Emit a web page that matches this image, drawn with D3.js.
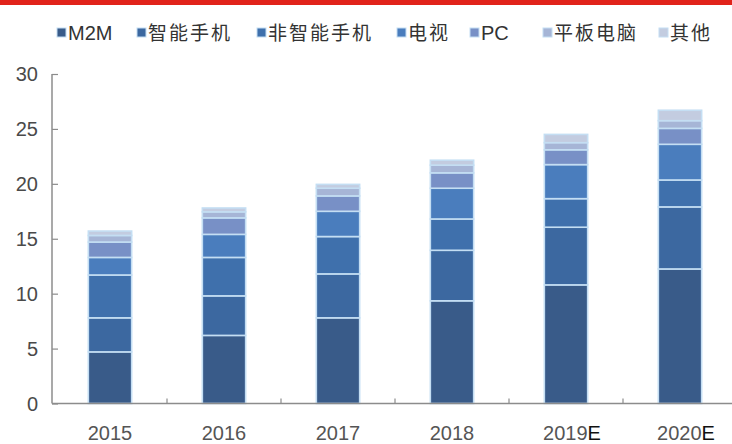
<!DOCTYPE html>
<html>
<head>
<meta charset="utf-8">
<script src="https://cdn.jsdelivr.net/npm/d3@7"></script>
<style>
  html, body { margin: 0; padding: 0; background: #fff; }
  svg { display: block; }
</style>
</head>
<body>
<svg id="chart" width="732" height="444"></svg>
<script>
// Categories (years) and stacked series, bottom to top
const years = ["2015", "2016", "2017", "2018", "2019E", "2020E"];
const seriesNames = ["M2M", "智能手机", "非智能手机", "电视", "PC", "平板电脑", "其他"];

const m2m        = [4.7, 6.2, 7.8, 9.35, 10.8, 12.25];
const smartphone = [3.1, 3.6, 4.0, 4.6, 5.25, 5.65];
const featurePh  = [3.9, 3.5, 3.4, 2.85, 2.6, 2.45];
const tv         = [1.6, 2.1, 2.3, 2.8, 3.1, 3.25];
const pc         = [1.4, 1.5, 1.4, 1.4, 1.35, 1.45];
const tablet     = [0.6, 0.55, 0.7, 0.7, 0.65, 0.7];
const others     = [0.4, 0.35, 0.35, 0.45, 0.75, 0.95];

const yTicks = [0, 5, 10, 15, 20, 25, 30];

const colors = ["#395b89", "#3c68a0", "#3f70ac", "#4a7dbd", "#7890c6", "#a6b5d6", "#c3cce0"];

// Assemble rows for d3.stack
const valueArrays = [m2m, smartphone, featurePh, tv, pc, tablet, others];
const rows = years.map((y, i) => {
  const r = { year: y };
  seriesNames.forEach((s, k) => { r[s] = valueArrays[k][i]; });
  return r;
});

const svg = d3.select("#chart");

// red rule across the top
svg.append("rect").attr("x", 0).attr("y", 0).attr("width", 732).attr("height", 5).attr("fill", "#e1231b");

const x = d3.scaleBand().domain(years).range([53, 737]).paddingInner(0.62).paddingOuter(0.31);
const y = d3.scaleLinear().domain([0, 30]).range([403.5, 74]);

const stack = d3.stack().keys(seriesNames);
const layers = stack(rows);

// stacked bars
const g = svg.append("g");
layers.forEach((layer, k) => {
  g.selectAll(null)
    .data(layer)
    .enter()
    .append("rect")
    .attr("x", d => x(d.data.year))
    .attr("y", d => y(d[1]))
    .attr("width", x.bandwidth())
    .attr("height", d => y(d[0]) - y(d[1]))
    .attr("fill", colors[k])
    .attr("stroke", "#c4def3")
    .attr("stroke-width", 1.6);
});

// axes
const axisColor = "#8c8c8c";
const yAxis = svg.append("g").attr("transform", "translate(52,0)")
  .call(d3.axisRight(y).tickValues(yTicks).tickSize(6).tickFormat(""));
yAxis.select(".domain").attr("stroke", axisColor).attr("stroke-width", 1.5).attr("d", `M0,${y(30)}V${y(0)}`);
yAxis.selectAll(".tick line").attr("stroke", axisColor).attr("stroke-width", 1.2);

svg.append("g")
  .selectAll("text")
  .data(yTicks)
  .enter()
  .append("text")
  .attr("x", 38)
  .attr("y", d => y(d))
  .attr("dy", "0.36em")
  .attr("text-anchor", "end")
  .attr("font-family", "Liberation Sans, Arial, sans-serif")
  .attr("font-size", 20)
  .attr("fill", "#4a4a4a")
  .text(d => d);

// x baseline and separators between categories
svg.append("line")
  .attr("x1", 52).attr("x2", 732).attr("y1", y(0)).attr("y2", y(0))
  .attr("stroke", axisColor).attr("stroke-width", 1.5);
svg.append("g")
  .selectAll("line")
  .data(years.slice(1))
  .enter()
  .append("line")
  .attr("x1", d => x(d) - x.step() * x.paddingInner() / 2)
  .attr("x2", d => x(d) - x.step() * x.paddingInner() / 2)
  .attr("y1", y(0)).attr("y2", y(0) - 5)
  .attr("stroke", axisColor).attr("stroke-width", 1.2);

// x labels; the trailing "E" is set in a darker face
const xl = svg.append("g")
  .selectAll("text")
  .data(years)
  .enter()
  .append("text")
  .attr("x", d => x(d) + x.bandwidth() / 2 + (d.endsWith("E") ? 6 : 0))
  .attr("y", 440)
  .attr("text-anchor", "middle")
  .attr("font-family", "Liberation Sans, Arial, sans-serif")
  .attr("font-size", 20)
  .attr("fill", "#555");
xl.append("tspan").text(d => d.replace("E", ""));
xl.append("tspan").attr("fill", "#111").text(d => d.endsWith("E") ? "E" : "");

// legend
const legendX = [57, 137, 257, 397, 470, 543, 659];
const legend = svg.append("g");
seriesNames.forEach((s, k) => {
  const latin = /^[A-Z0-9]+$/.test(s);
  legend.append("rect")
    .attr("x", legendX[k]).attr("y", 28)
    .attr("width", 9).attr("height", 9)
    .attr("fill", colors[k])
    .attr("stroke", "#c4def3").attr("stroke-width", 1);
  legend.append("text")
    .attr("x", legendX[k] + 11).attr("y", 40)
    .attr("font-family", "Liberation Sans, Noto Sans CJK SC, sans-serif")
    .attr("font-size", latin ? 20 : 19)
    .attr("letter-spacing", latin ? 0 : 2)
    .attr("fill", "#333")
    .text(s);
});
</script>
</body>
</html>
